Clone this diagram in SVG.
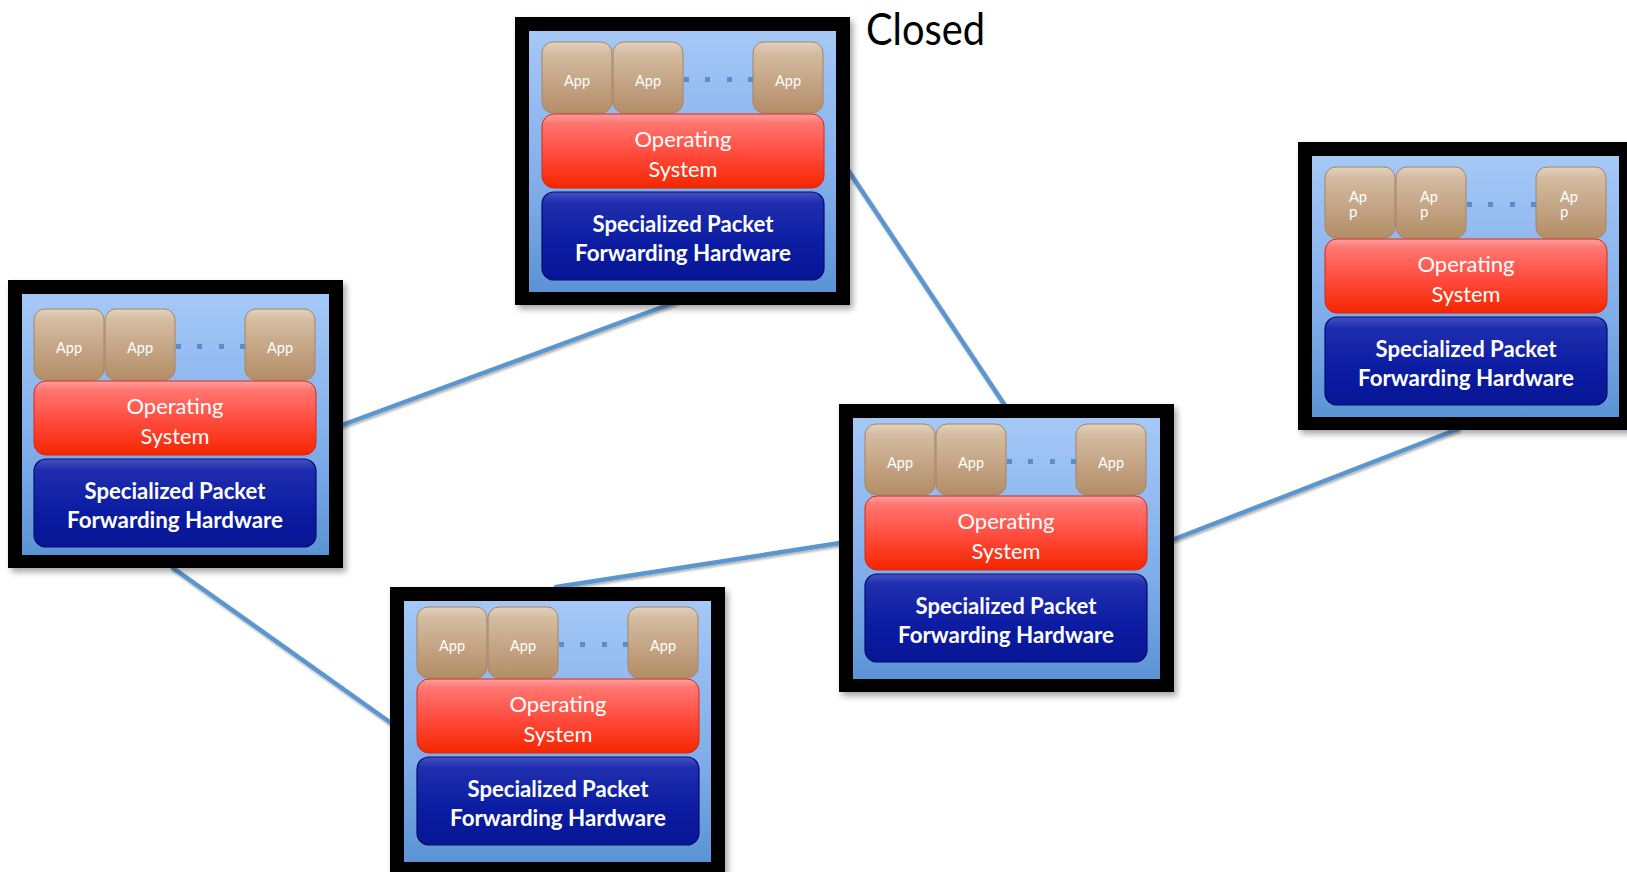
<svg xmlns="http://www.w3.org/2000/svg" width="1627" height="872" viewBox="0 0 1627 872">
<defs>
<linearGradient id="gBg" x1="0" y1="0" x2="0" y2="1"><stop offset="0" stop-color="#a5c8f6"/><stop offset="0.6" stop-color="#80adea"/><stop offset="1" stop-color="#5a93d4"/></linearGradient>
<linearGradient id="gApp" x1="0" y1="0" x2="0" y2="1"><stop offset="0" stop-color="#e3d2be"/><stop offset="0.15" stop-color="#d4bca1"/><stop offset="0.6" stop-color="#c3a282"/><stop offset="1" stop-color="#b38e66"/></linearGradient>
<linearGradient id="gOs" x1="0" y1="0" x2="0" y2="1"><stop offset="0" stop-color="#ffa0a0"/><stop offset="0.12" stop-color="#ff7670"/><stop offset="0.55" stop-color="#ff4a3c"/><stop offset="1" stop-color="#f52600"/></linearGradient>
<linearGradient id="gHw" x1="0" y1="0" x2="0" y2="1"><stop offset="0" stop-color="#4450c4"/><stop offset="0.12" stop-color="#1f2eae"/><stop offset="0.6" stop-color="#0b1ca2"/><stop offset="1" stop-color="#071694"/></linearGradient>
<filter id="sh" x="-10%" y="-10%" width="125%" height="125%"><feDropShadow dx="3" dy="4" stdDeviation="3" flood-color="#000" flood-opacity="0.35"/></filter>
<filter id="lsh" x="-5%" y="-5%" width="110%" height="110%"><feDropShadow dx="1" dy="2" stdDeviation="1.2" flood-color="#000" flood-opacity="0.3"/></filter>
</defs>
<style>
.frame{fill:#000;filter:url(#sh)}
.bg{fill:url(#gBg)}
.app{fill:url(#gApp);stroke:#a8845e;stroke-width:1}
.os{fill:url(#gOs);stroke:#d42a10;stroke-width:1}
.hw{fill:url(#gHw);stroke:#000c6e;stroke-width:1.2}
.dot{fill:#5a8fc6}
.t{font-family:Lato,"Open Sans","Liberation Sans",sans-serif;fill:#fff;text-anchor:middle}
.ta{font-size:15px}
.tl{font-size:15px;text-anchor:start}
.to{font-size:22px}
.th{font-size:22px;font-weight:bold}
.conn{stroke:#5b96cf;stroke-width:4.5;fill:none;stroke-linecap:round;filter:url(#lsh)}
.title{font-family:Lato,"Open Sans","Liberation Sans",sans-serif;font-size:44px;fill:#000}
</style>
<rect width="1627" height="872" fill="#fff"/>
<g id="connectors">
<line class="conn" x1="342" y1="425" x2="676" y2="302"/>
<line class="conn" x1="848" y1="170" x2="1004" y2="404"/>
<line class="conn" x1="173" y1="568" x2="391" y2="723"/>
<line class="conn" x1="556" y1="587" x2="840" y2="543"/>
<line class="conn" x1="1172" y1="540" x2="1458" y2="429"/>
</g>
<text id="title" class="title" x="866" y="45" textLength="119" lengthAdjust="spacingAndGlyphs">Closed</text>

<g id="node-top" transform="translate(515,17)">
<rect class="frame" x="0" y="0" width="335" height="288"/>
<rect class="bg" x="14" y="14" width="307" height="261"/>
<rect class="app" x="27" y="25" width="70" height="71" rx="11"/>
<rect class="app" x="98" y="25" width="70" height="71" rx="11"/>
<rect class="app" x="238" y="25" width="70" height="71" rx="11"/>
<rect class="dot" x="169" y="60" width="5" height="5"/><rect class="dot" x="190" y="60" width="5" height="5"/><rect class="dot" x="212" y="60" width="5" height="5"/><rect class="dot" x="233" y="60" width="5" height="5"/>
<rect class="os" x="27" y="97" width="282" height="74" rx="12"/>
<rect class="hw" x="27" y="175" width="282" height="88" rx="12"/>
<text class="t ta" x="62" y="69" textLength="26" lengthAdjust="spacingAndGlyphs">App</text>
<text class="t ta" x="133" y="69" textLength="26" lengthAdjust="spacingAndGlyphs">App</text>
<text class="t ta" x="273" y="69" textLength="26" lengthAdjust="spacingAndGlyphs">App</text>
<text class="t to" x="168" y="130" textLength="97" lengthAdjust="spacingAndGlyphs">Operating</text>
<text class="t to" x="168" y="160" textLength="69" lengthAdjust="spacingAndGlyphs">System</text>
<text class="t th" x="168" y="215" textLength="181" lengthAdjust="spacingAndGlyphs">Specialized Packet</text>
<text class="t th" x="168" y="244" textLength="216" lengthAdjust="spacingAndGlyphs">Forwarding Hardware</text>
</g>

<g id="node-left" transform="translate(8,280)">
<rect class="frame" x="0" y="0" width="335" height="288"/>
<rect class="bg" x="14" y="14" width="307" height="261"/>
<g transform="translate(-1,4)">
<rect class="app" x="27" y="25" width="70" height="71" rx="11"/>
<rect class="app" x="98" y="25" width="70" height="71" rx="11"/>
<rect class="app" x="238" y="25" width="70" height="71" rx="11"/>
<rect class="dot" x="169" y="60" width="5" height="5"/><rect class="dot" x="190" y="60" width="5" height="5"/><rect class="dot" x="212" y="60" width="5" height="5"/><rect class="dot" x="233" y="60" width="5" height="5"/>
<rect class="os" x="27" y="97" width="282" height="74" rx="12"/>
<rect class="hw" x="27" y="175" width="282" height="88" rx="12"/>
<text class="t ta" x="62" y="69" textLength="26" lengthAdjust="spacingAndGlyphs">App</text>
<text class="t ta" x="133" y="69" textLength="26" lengthAdjust="spacingAndGlyphs">App</text>
<text class="t ta" x="273" y="69" textLength="26" lengthAdjust="spacingAndGlyphs">App</text>
<text class="t to" x="168" y="130" textLength="97" lengthAdjust="spacingAndGlyphs">Operating</text>
<text class="t to" x="168" y="160" textLength="69" lengthAdjust="spacingAndGlyphs">System</text>
<text class="t th" x="168" y="215" textLength="181" lengthAdjust="spacingAndGlyphs">Specialized Packet</text>
<text class="t th" x="168" y="244" textLength="216" lengthAdjust="spacingAndGlyphs">Forwarding Hardware</text>
</g>
</g>

<g id="node-bottom" transform="translate(390,587)">
<rect class="frame" x="0" y="0" width="335" height="288"/>
<rect class="bg" x="14" y="14" width="307" height="261"/>
<g transform="translate(0,-5)">
<rect class="app" x="27" y="25" width="70" height="71" rx="11"/>
<rect class="app" x="98" y="25" width="70" height="71" rx="11"/>
<rect class="app" x="238" y="25" width="70" height="71" rx="11"/>
<rect class="dot" x="169" y="60" width="5" height="5"/><rect class="dot" x="190" y="60" width="5" height="5"/><rect class="dot" x="212" y="60" width="5" height="5"/><rect class="dot" x="233" y="60" width="5" height="5"/>
<rect class="os" x="27" y="97" width="282" height="74" rx="12"/>
<rect class="hw" x="27" y="175" width="282" height="88" rx="12"/>
<text class="t ta" x="62" y="69" textLength="26" lengthAdjust="spacingAndGlyphs">App</text>
<text class="t ta" x="133" y="69" textLength="26" lengthAdjust="spacingAndGlyphs">App</text>
<text class="t ta" x="273" y="69" textLength="26" lengthAdjust="spacingAndGlyphs">App</text>
<text class="t to" x="168" y="130" textLength="97" lengthAdjust="spacingAndGlyphs">Operating</text>
<text class="t to" x="168" y="160" textLength="69" lengthAdjust="spacingAndGlyphs">System</text>
<text class="t th" x="168" y="215" textLength="181" lengthAdjust="spacingAndGlyphs">Specialized Packet</text>
<text class="t th" x="168" y="244" textLength="216" lengthAdjust="spacingAndGlyphs">Forwarding Hardware</text>
</g>
</g>

<g id="node-middle" transform="translate(839,404)">
<rect class="frame" x="0" y="0" width="335" height="288"/>
<rect class="bg" x="14" y="14" width="307" height="261"/>
<g transform="translate(-1,-5)">
<rect class="app" x="27" y="25" width="70" height="71" rx="11"/>
<rect class="app" x="98" y="25" width="70" height="71" rx="11"/>
<rect class="app" x="238" y="25" width="70" height="71" rx="11"/>
<rect class="dot" x="169" y="60" width="5" height="5"/><rect class="dot" x="190" y="60" width="5" height="5"/><rect class="dot" x="212" y="60" width="5" height="5"/><rect class="dot" x="233" y="60" width="5" height="5"/>
<rect class="os" x="27" y="97" width="282" height="74" rx="12"/>
<rect class="hw" x="27" y="175" width="282" height="88" rx="12"/>
<text class="t ta" x="62" y="69" textLength="26" lengthAdjust="spacingAndGlyphs">App</text>
<text class="t ta" x="133" y="69" textLength="26" lengthAdjust="spacingAndGlyphs">App</text>
<text class="t ta" x="273" y="69" textLength="26" lengthAdjust="spacingAndGlyphs">App</text>
<text class="t to" x="168" y="130" textLength="97" lengthAdjust="spacingAndGlyphs">Operating</text>
<text class="t to" x="168" y="160" textLength="69" lengthAdjust="spacingAndGlyphs">System</text>
<text class="t th" x="168" y="215" textLength="181" lengthAdjust="spacingAndGlyphs">Specialized Packet</text>
<text class="t th" x="168" y="244" textLength="216" lengthAdjust="spacingAndGlyphs">Forwarding Hardware</text>
</g>
</g>

<g id="node-right" transform="translate(1298,142)">
<rect class="frame" x="0" y="0" width="335" height="288"/>
<rect class="bg" x="14" y="14" width="307" height="261"/>
<rect class="app" x="27" y="25" width="70" height="71" rx="11"/>
<rect class="app" x="98" y="25" width="70" height="71" rx="11"/>
<rect class="app" x="238" y="25" width="70" height="71" rx="11"/>
<rect class="dot" x="169" y="60" width="5" height="5"/><rect class="dot" x="190" y="60" width="5" height="5"/><rect class="dot" x="212" y="60" width="5" height="5"/><rect class="dot" x="233" y="60" width="5" height="5"/>
<rect class="os" x="27" y="97" width="282" height="74" rx="12"/>
<rect class="hw" x="27" y="175" width="282" height="88" rx="12"/>
<text class="t tl" x="51" y="60" textLength="18" lengthAdjust="spacingAndGlyphs">Ap</text><text class="t tl" x="51" y="75">p</text>
<text class="t tl" x="122" y="60" textLength="18" lengthAdjust="spacingAndGlyphs">Ap</text><text class="t tl" x="122" y="75">p</text>
<text class="t tl" x="262" y="60" textLength="18" lengthAdjust="spacingAndGlyphs">Ap</text><text class="t tl" x="262" y="75">p</text>
<text class="t to" x="168" y="130" textLength="97" lengthAdjust="spacingAndGlyphs">Operating</text>
<text class="t to" x="168" y="160" textLength="69" lengthAdjust="spacingAndGlyphs">System</text>
<text class="t th" x="168" y="215" textLength="181" lengthAdjust="spacingAndGlyphs">Specialized Packet</text>
<text class="t th" x="168" y="244" textLength="216" lengthAdjust="spacingAndGlyphs">Forwarding Hardware</text>
</g>
</svg>
